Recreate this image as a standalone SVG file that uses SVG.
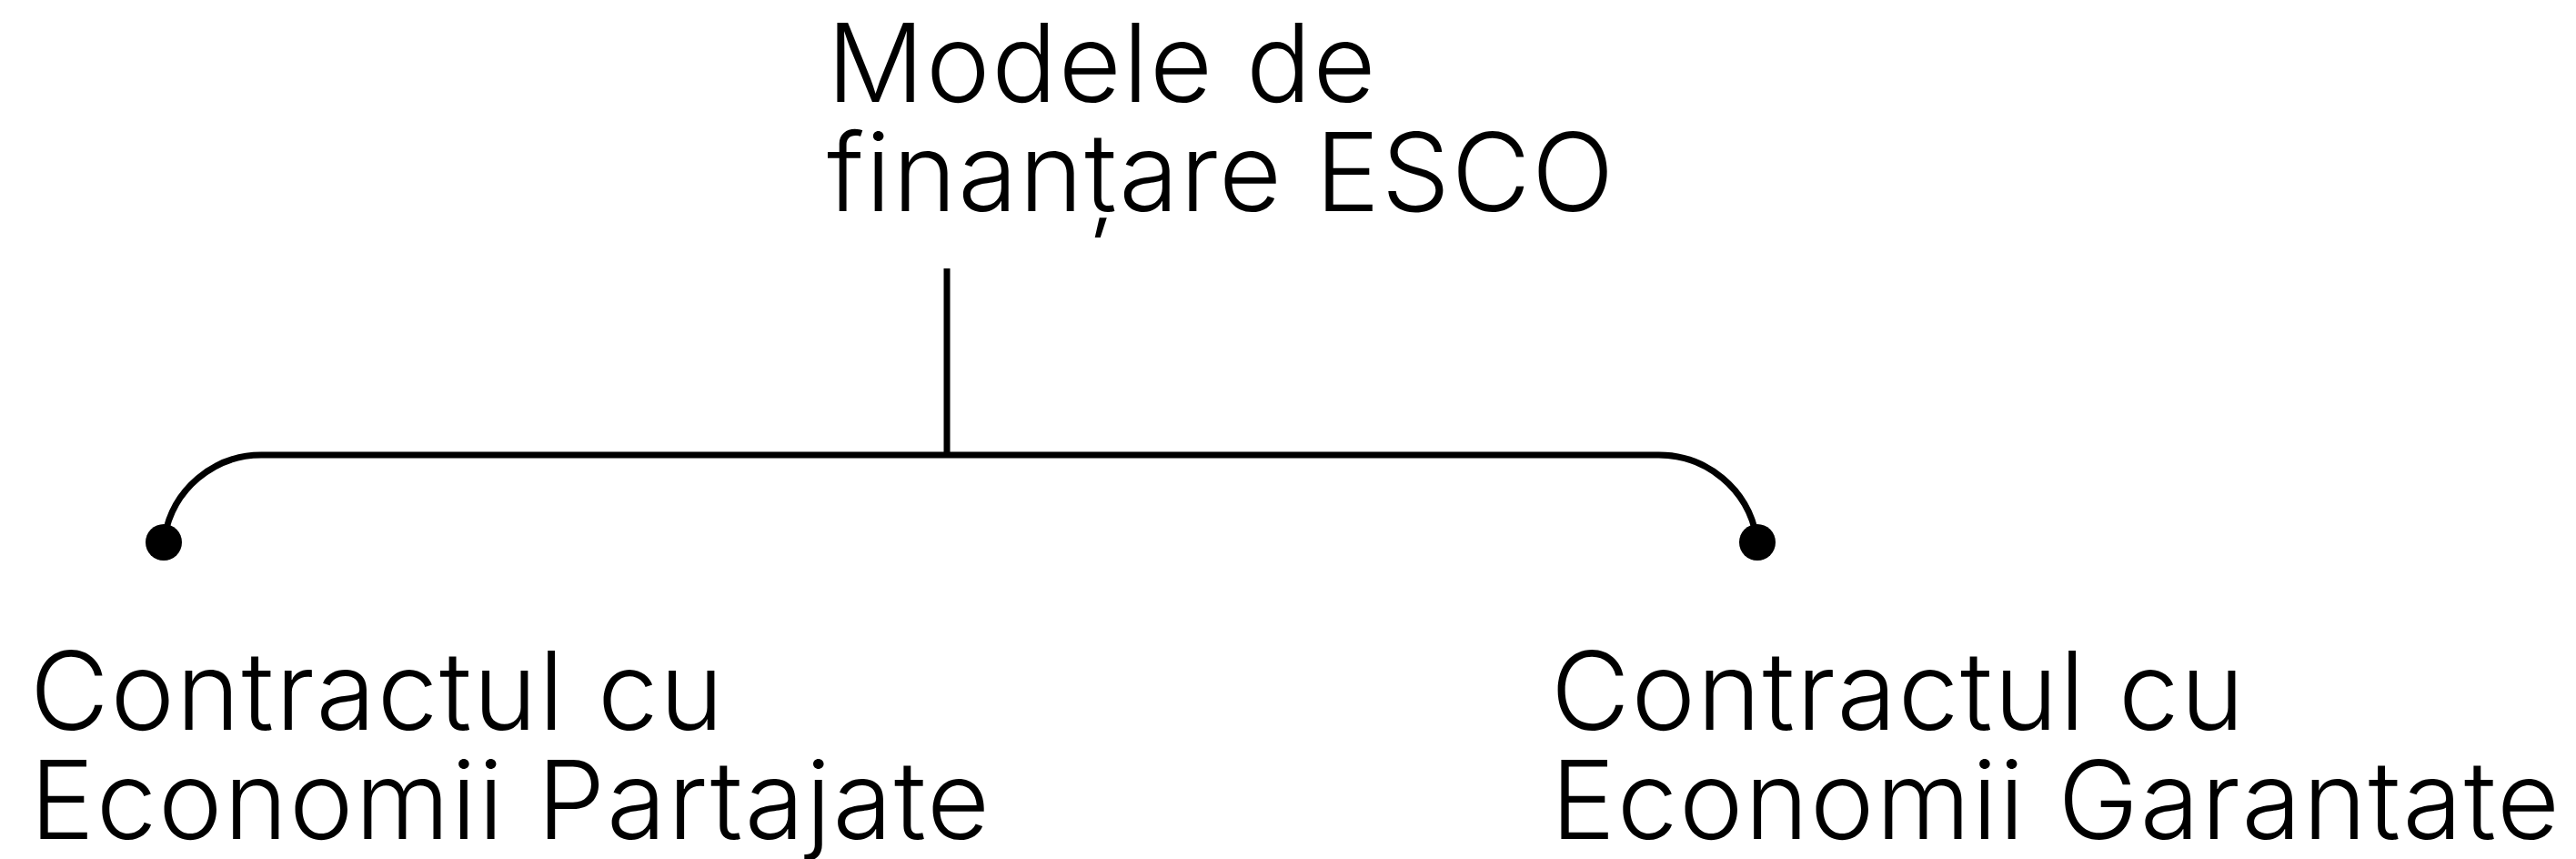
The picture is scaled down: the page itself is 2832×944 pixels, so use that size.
<svg xmlns="http://www.w3.org/2000/svg" width="2832" height="944" viewBox="0 0 2832 944">
<style>
.lbl{font-family:Inter,"Noto Sans","Liberation Sans",sans-serif;font-weight:300;font-size:119px;letter-spacing:1.8px;fill:#000}
.con{fill:none;stroke:#000;stroke-width:7}
.dot{fill:#000}
</style>
<rect width="2832" height="944" fill="#fff"/>
<g id="connectors">
<path class="con" d="M1041 295 V500"/>
<path class="con" d="M287 500 H1823"/>
<path class="con" d="M287 500 A108 108 0 0 0 181 590"/>
<path class="con" d="M1823 500 A109 109 0 0 1 1931 590"/>
<circle class="dot" cx="180" cy="596" r="20"/>
<circle class="dot" cx="1932" cy="596" r="20"/>
</g>
<g id="root">
<text class="lbl" x="909" y="112"><tspan x="909" y="112">Modele de</tspan><tspan x="909" y="232">finanțare ESCO</tspan></text>
</g>
<g id="shared">
<text class="lbl" x="33" y="802"><tspan x="33" y="802">Contractul cu</tspan><tspan x="33" y="922">Economii Partajate</tspan></text>
</g>
<g id="guaranteed">
<text class="lbl" x="1705" y="802"><tspan x="1705" y="802">Contractul cu</tspan><tspan x="1705" y="922">Economii Garantate</tspan></text>
</g>
</svg>
